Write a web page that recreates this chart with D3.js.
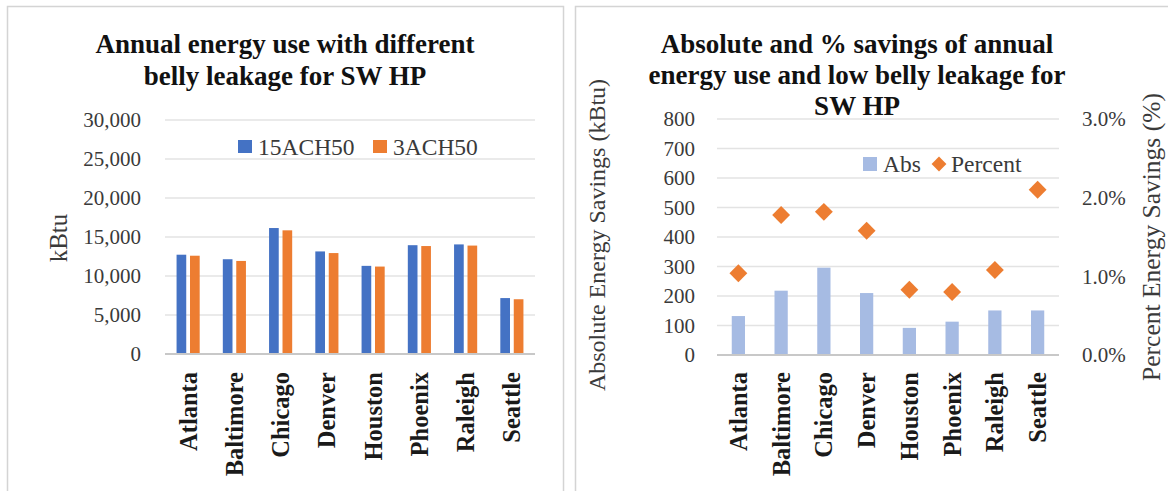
<!DOCTYPE html>
<html>
<head>
<meta charset="utf-8">
<script src="https://cdn.jsdelivr.net/npm/d3@7"></script>
<style>
  html, body { margin: 0; padding: 0; background: #ffffff; }
  svg { display: block; }
  text { font-family: "Liberation Serif", "DejaVu Serif", serif; }
</style>
</head>
<body>
<svg id="chart" width="1168" height="491"></svg>
<script>
// ---------------- DATA ----------------
const cities = ["Atlanta", "Baltimore", "Chicago", "Denver", "Houston", "Phoenix", "Raleigh", "Seattle"];
const seriesNames = ["15ACH50", "3ACH50"];
const use15ACH50 = [12730, 12150, 16150, 13150, 11300, 13950, 14050, 7170];
const use3ACH50 = [12600, 11930, 15855, 12940, 11210, 13840, 13900, 7020];
const absSavings = [132, 218, 296, 210, 92, 113, 151, 151];
const pctSavings = [1.04, 1.78, 1.82, 1.58, 0.83, 0.80, 1.08, 2.10];
const useTicks = [0, 5000, 10000, 15000, 20000, 25000, 30000];
const absTicks = [0, 100, 200, 300, 400, 500, 600, 700, 800];
const pctTicks = [0, 1, 2, 3];
const leftTitle = ["Annual energy use with different", "belly leakage for SW HP"];
const rightTitle = ["Absolute and % savings of annual", "energy use and low belly leakage for", "SW HP"];
const legend2 = ["Abs", "Percent"];

// ---------------- STYLE ----------------
const C_BLUE = "#4472c4", C_ORANGE = "#ed7d31", C_LIGHT = "#a6bbe3";
const C_GRID = "#e3e3e3", C_AXIS = "#c8c8c8", C_TEXT = "#3a3a3a", C_TITLE = "#111111";
const F_TITLE = 27, F_TICK = 21, F_AXT = 24, F_LEG = 23.5, F_CAT = 24.5;

const svg = d3.select("#chart");

// panel borders
svg.append("rect").attr("x", 7.5).attr("y", 6.5).attr("width", 556).attr("height", 520)
  .attr("fill", "#fff").attr("stroke", "#d4d4d4").attr("stroke-width", 1.5);
svg.append("rect").attr("x", 575.5).attr("y", 6.5).attr("width", 620).attr("height", 520)
  .attr("fill", "#fff").attr("stroke", "#d4d4d4").attr("stroke-width", 1.5);

function title(lines, cx, y0, dy) {
  svg.append("g").selectAll("text").data(lines).join("text")
    .attr("x", cx).attr("y", (d, i) => y0 + i * dy)
    .attr("text-anchor", "middle").attr("font-weight", "bold")
    .attr("font-size", F_TITLE).attr("fill", C_TITLE).text(d => d);
}

function catAxis(g, x, y0) {
  g.append("g").selectAll("text").data(cities).join("text")
    .attr("transform", d => `translate(${x(d) + x.bandwidth() / 2},${y0}) rotate(-90)`)
    .attr("text-anchor", "end").attr("dy", "0.35em")
    .attr("font-weight", "bold").attr("font-size", F_CAT).attr("fill", "#1a1a1a")
    .text(d => d);
}

// ================= LEFT CHART =================
{
  const L = { x0: 165, x1: 535, yTop: 120, yBot: 354 };
  title(leftTitle, 285, 53, 32);
  const x = d3.scaleBand().domain(cities).range([L.x0, L.x1]).paddingInner(0.5).paddingOuter(0.25);
  const xs = d3.scaleBand().domain(seriesNames).range([0, x.bandwidth()]).paddingInner(0.28);
  const y = d3.scaleLinear().domain([0, 30000]).range([L.yBot, L.yTop]);
  const g = svg.append("g");

  g.append("g").selectAll("line").data(useTicks.filter(t => t > 0)).join("line")
    .attr("x1", L.x0).attr("x2", L.x1).attr("y1", d => y(d)).attr("y2", d => y(d))
    .attr("stroke", C_GRID).attr("stroke-width", 1.5);

  const yAxis = d3.axisLeft(y).tickValues(useTicks).tickSize(0).tickPadding(24)
    .tickFormat(d3.format(","));
  const ya = g.append("g").attr("transform", `translate(${L.x0},0)`).call(yAxis);
  ya.select(".domain").remove();
  ya.selectAll("text").attr("font-family", "Liberation Serif, serif").attr("font-size", F_TICK).attr("fill", C_TEXT);

  const data = cities.map((c, i) => ({ city: c, vals: [use15ACH50[i], use3ACH50[i]] }));
  const colors = [C_BLUE, C_ORANGE];
  g.append("g").selectAll("g").data(data).join("g")
    .attr("transform", d => `translate(${x(d.city)},0)`)
    .selectAll("rect").data(d => d.vals.map((v, k) => ({ k, v }))).join("rect")
    .attr("x", d => xs(seriesNames[d.k])).attr("width", xs.bandwidth())
    .attr("y", d => y(d.v)).attr("height", d => y(0) - y(d.v))
    .attr("fill", d => colors[d.k]);

  g.append("line").attr("x1", L.x0).attr("x2", L.x1).attr("y1", y(0)).attr("y2", y(0))
    .attr("stroke", C_AXIS).attr("stroke-width", 2);

  catAxis(g, x, 372);

  g.append("text").attr("transform", `translate(58,238) rotate(-90)`)
    .attr("text-anchor", "middle").attr("dy", "0.35em")
    .attr("font-size", 25).attr("fill", C_TEXT).text("kBtu");

  // legend
  const leg = g.append("g");
  const lx = [238, 373];
  seriesNames.forEach((s, i) => {
    leg.append("rect").attr("x", lx[i]).attr("y", 140).attr("width", 14).attr("height", 13).attr("fill", colors[i]);
    leg.append("text").attr("x", lx[i] + 20).attr("y", 146.5).attr("dy", "0.35em")
      .attr("font-size", F_LEG).attr("fill", C_TEXT).text(s);
  });
}

// ================= RIGHT CHART =================
{
  const R = { x0: 717, x1: 1059, yTop: 119, yBot: 355 };
  title(rightTitle, 857, 53, 31);
  const x = d3.scaleBand().domain(cities).range([R.x0, R.x1]).paddingInner(0.69).paddingOuter(0.345);
  const y = d3.scaleLinear().domain([0, 800]).range([R.yBot, R.yTop]);
  const y2 = d3.scaleLinear().domain([0, 3]).range([R.yBot, R.yTop]);
  const g = svg.append("g");

  g.append("g").selectAll("line").data(absTicks.filter(t => t > 0)).join("line")
    .attr("x1", R.x0).attr("x2", R.x1).attr("y1", d => y(d)).attr("y2", d => y(d))
    .attr("stroke", C_GRID).attr("stroke-width", 1.5);

  const ya = g.append("g").attr("transform", `translate(${R.x0},0)`)
    .call(d3.axisLeft(y).tickValues(absTicks).tickSize(0).tickPadding(22));
  ya.select(".domain").remove();
  ya.selectAll("text").attr("font-family", "Liberation Serif, serif").attr("font-size", F_TICK).attr("fill", C_TEXT);

  const yb = g.append("g").attr("transform", `translate(${R.x1},0)`)
    .call(d3.axisRight(y2).tickValues(pctTicks).tickSize(0).tickPadding(23).tickFormat(d => d.toFixed(1) + "%"));
  yb.select(".domain").remove();
  yb.selectAll("text").attr("font-family", "Liberation Serif, serif").attr("font-size", F_TICK).attr("fill", C_TEXT);

  g.append("g").selectAll("rect").data(cities).join("rect")
    .attr("x", d => x(d)).attr("width", x.bandwidth())
    .attr("y", (d, i) => y(absSavings[i])).attr("height", (d, i) => y(0) - y(absSavings[i]))
    .attr("fill", C_LIGHT);

  g.append("line").attr("x1", R.x0).attr("x2", R.x1).attr("y1", y(0)).attr("y2", y(0))
    .attr("stroke", C_AXIS).attr("stroke-width", 2);

  const diamond = d3.symbol().type(d3.symbolSquare).size(160);
  g.append("g").selectAll("path").data(cities).join("path")
    .attr("d", diamond)
    .attr("transform", (d, i) => `translate(${x(d) + x.bandwidth() / 2},${y2(pctSavings[i])}) rotate(45)`)
    .attr("fill", C_ORANGE);

  catAxis(g, x, 372);

  g.append("text").attr("transform", `translate(597,235) rotate(-90)`)
    .attr("text-anchor", "middle").attr("dy", "0.35em")
    .attr("font-size", F_AXT).attr("fill", C_TEXT).text("Absolute Energy Savings (kBtu)");
  g.append("text").attr("transform", `translate(1151,237) rotate(-90)`)
    .attr("text-anchor", "middle").attr("dy", "0.35em")
    .attr("font-size", 25.5).attr("fill", C_TEXT).text("Percent Energy Savings (%)");

  // legend
  const leg = g.append("g");
  leg.append("rect").attr("x", 863).attr("y", 157).attr("width", 14).attr("height", 14).attr("fill", C_LIGHT);
  leg.append("text").attr("x", 883).attr("y", 164).attr("dy", "0.35em")
    .attr("font-size", F_LEG).attr("fill", C_TEXT).text(legend2[0]);
  leg.append("path").attr("d", d3.symbol().type(d3.symbolSquare).size(110))
    .attr("transform", "translate(939,164) rotate(45)").attr("fill", C_ORANGE);
  leg.append("text").attr("x", 951).attr("y", 164).attr("dy", "0.35em")
    .attr("font-size", F_LEG).attr("fill", C_TEXT).text(legend2[1]);
}
</script>
</body>
</html>
